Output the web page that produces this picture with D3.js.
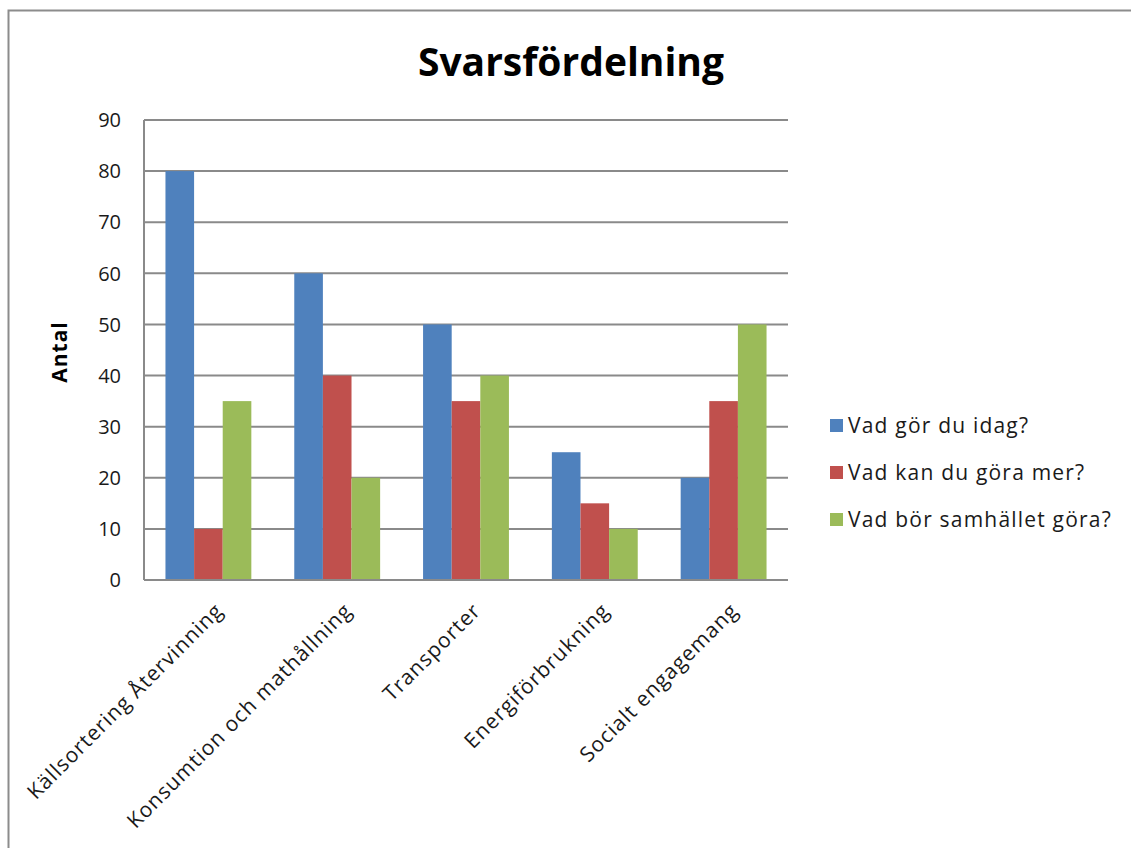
<!DOCTYPE html>
<html>
<head>
<meta charset="utf-8">
<script src="https://cdn.jsdelivr.net/npm/d3@7"></script>
<style>
  body { margin: 0; background: #fff; }
  text { font-family: "Open Sans", sans-serif; fill: #1a1a1a; }
</style>
</head>
<body>
<svg id="drawing_region"></svg>
<script>
const categories = ["Källsortering Återvinning", "Konsumtion och mathållning", "Transporter", "Energiförbrukning", "Socialt engagemang"];
const seriesNames = ["Vad gör du idag?", "Vad kan du göra mer?", "Vad bör samhället göra?"];
const idag = [80, 60, 50, 25, 20];
const merGora = [10, 40, 35, 15, 35];
const samhallet = [35, 20, 40, 10, 50];
const yTicks = [0, 10, 20, 30, 40, 50, 60, 70, 80, 90];
const colors = ["#4f81bd", "#c0504d", "#9bbb59"];

const width = 1131, height = 848;
const margin = { left: 144, top: 120, right: 1131 - 788, bottom: 848 - 580 };

const svg = d3.select('#drawing_region')
    .attr('width', width)
    .attr('height', height);

// outer border of the chart area
svg.append('rect')
    .attr('x', 8.5).attr('y', 10.5)
    .attr('width', width).attr('height', height)
    .attr('fill', 'none')
    .attr('stroke', '#8c8c8c')
    .attr('stroke-width', 2);

// Excel style: gap = 1.5 bar width, split half on each side
const x0 = d3.scaleBand()
    .domain(categories)
    .range([margin.left, width - margin.right]);
const bandW = x0.bandwidth();
const barW = bandW / 4.5;

const x1 = d3.scaleBand()
    .domain(seriesNames)
    .range([0, barW * 3]);

const y = d3.scaleLinear()
    .domain([0, 90])
    .range([height - margin.bottom, margin.top]);

// gridlines
svg.append('g')
    .selectAll('line')
    .data(yTicks)
    .join('line')
    .attr('x1', margin.left).attr('x2', width - margin.right)
    .attr('y1', d => y(d)).attr('y2', d => y(d))
    .attr('stroke', '#8a8a8a')
    .attr('stroke-width', 2);

// y axis labels
svg.append('g')
    .selectAll('text')
    .data(yTicks)
    .join('text')
    .attr('x', 121)
    .attr('y', d => y(d))
    .attr('dy', '0.36em')
    .attr('text-anchor', 'end')
    .style('font-size', '20px')
    .text(d => d);

// left axis line
svg.append('line')
    .attr('x1', margin.left).attr('x2', margin.left)
    .attr('y1', y(0)).attr('y2', y(90))
    .attr('stroke', '#8a8a8a')
    .attr('stroke-width', 2);

const series = [idag, merGora, samhallet];
const bars = [];
categories.forEach((c, i) => {
    series.forEach((s, j) => {
        bars.push({ cat: c, name: seriesNames[j], value: s[i], color: colors[j] });
    });
});

svg.append('g')
    .selectAll('rect')
    .data(bars)
    .join('rect')
    .attr('x', d => x0(d.cat) + barW * 0.75 + x1(d.name))
    .attr('y', d => y(d.value))
    .attr('width', x1.bandwidth())
    .attr('height', d => y(0) - y(d.value))
    .attr('fill', d => d.color);

// bottom axis line
svg.append('line')
    .attr('x1', margin.left).attr('x2', width - margin.right)
    .attr('y1', y(0)).attr('y2', y(0))
    .attr('stroke', '#8a8a8a')
    .attr('stroke-width', 2);

// x labels rotated
svg.append('g')
    .selectAll('text')
    .data(categories)
    .join('text')
    .attr('transform', d => {
        const cx = x0(d) + bandW / 2;
        return `translate(${cx + 16}, ${y(0) + 32}) rotate(-45)`;
    })
    .attr('text-anchor', 'end')
    .style('font-size', '21px')
    .style('letter-spacing', '1px')
    .text(d => d);

// title
svg.append('text')
    .attr('x', 571).attr('y', 76)
    .attr('text-anchor', 'middle')
    .style('font-size', '39px')
    .style('font-weight', 'bold')
    .style('fill', '#000')
    .text('Svarsfördelning');

// y title
svg.append('text')
    .attr('transform', 'translate(67, 352) rotate(-90)')
    .attr('text-anchor', 'middle')
    .style('font-size', '21px')
    .style('font-weight', 'bold')
    .style('letter-spacing', '1px')
    .style('fill', '#000')
    .text('Antal');

// legend
const legend = svg.append('g')
    .selectAll('g')
    .data(seriesNames)
    .join('g')
    .attr('transform', (d, i) => `translate(830, ${425 + i * 47})`);

legend.append('rect')
    .attr('x', 0).attr('y', -6)
    .attr('width', 13).attr('height', 13)
    .attr('fill', (d, i) => colors[i]);

legend.append('text')
    .attr('x', 18)
    .attr('dy', '0.36em')
    .style('font-size', '21px')
    .style('letter-spacing', '1.2px')
    .text(d => d);
</script>
</body>
</html>
